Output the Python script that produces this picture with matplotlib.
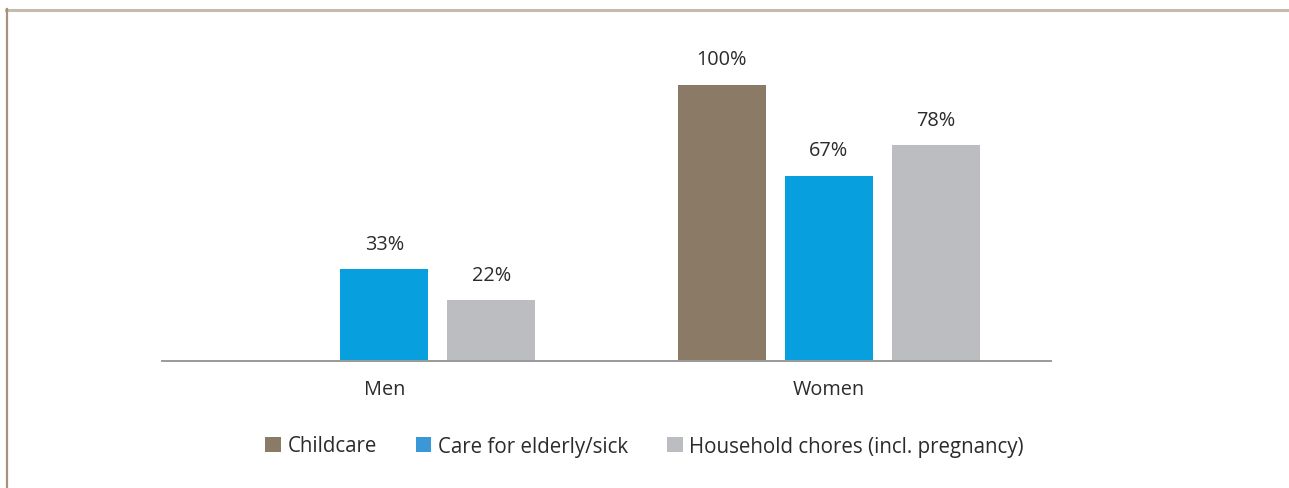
import matplotlib
matplotlib.use("Agg")
import matplotlib.pyplot as plt
from matplotlib.patches import Patch
from matplotlib.lines import Line2D
import numpy as np

plt.rcParams['font.family'] = ['Open Sans', 'DejaVu Sans']

# data
groups = ['Men', 'Women']
series = ['Childcare', 'Care for elderly/sick', 'Household chores (incl. pregnancy)']
values = {
    'Childcare': [0, 100],
    'Care for elderly/sick': [33, 67],
    'Household chores (incl. pregnancy)': [22, 78],
}
colors = ['#8b7a66', '#079fdd', '#bcbdc1']
legend_colors = ['#8b7a66', '#3a97d8', '#bcbdc1']

W, H = 1289, 489
fig = plt.figure(figsize=(W / 100, H / 100), dpi=100)

# outer frame (top and left edges only)
fig.add_artist(Line2D([6 / W, 1 - 1 / W], [1 - 11 / H, 1 - 11 / H], color='#c5bab0', lw=2.2))
fig.add_artist(Line2D([6.5 / W, 6.5 / W], [0, 1 - 10 / H], color='#a6927f', lw=1.6))

# axes: baseline at y=361, x from 162 to 1051
ax_left, ax_right = 162, 1051
ax_bottom = 361.5
ymax = 120
px_per_unit = 276 / 100
ax_top = ax_bottom - ymax * px_per_unit
ax = fig.add_axes([ax_left / W, 1 - ax_bottom / H, (ax_right - ax_left) / W, (ax_bottom - ax_top) / H])

x = np.arange(len(groups))
step = 107 / 444.5
width = 88 / 444.5
for i, s in enumerate(series):
    pos = x + (i - 1) * step
    vals = values[s]
    for p, v in zip(pos, vals):
        if v > 0:
            ax.bar(p, v, width, color=colors[i])
            ax.annotate(f'{v}%', (p, v), xytext=(0, 11), textcoords='offset points',
                        ha='center', va='bottom', fontsize=14.3, color='#2b2b2b')

ax.set_xlim(-0.5, 1.5)
ax.set_ylim(0, ymax)
for side in ['top', 'right', 'left']:
    ax.spines[side].set_visible(False)
ax.spines['bottom'].set_color('#9a9a9a')
ax.spines['bottom'].set_linewidth(1.4)
ax.set_yticks([])
ax.set_xticks(x)
ax.set_xticklabels(groups, fontsize=14.3, color='#2b2b2b')
ax.tick_params(axis='x', length=0, pad=13)

handles = [Patch(facecolor=c, edgecolor='none') for c in legend_colors]
fig.legend(handles, series, loc='center', bbox_to_anchor=(0.5, 1 - 447 / H), ncol=3,
           frameon=False, fontsize=14.8, handlelength=0.75, handleheight=0.75,
           handletextpad=0.33, columnspacing=1.9, labelcolor='#2b2b2b')

fig.savefig('out.png', dpi=100)
